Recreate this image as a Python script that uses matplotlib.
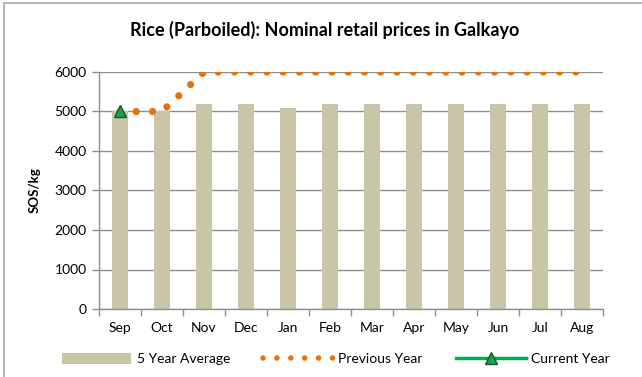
import numpy as np
import matplotlib.pyplot as plt
from matplotlib.lines import Line2D
from matplotlib.patches import Patch, Rectangle

plt.rcParams['font.family'] = ['Lato', 'DejaVu Sans']

months = ['Sep', 'Oct', 'Nov', 'Dec', 'Jan', 'Feb', 'Mar', 'Apr', 'May', 'Jun', 'Jul', 'Aug']
five_year_avg = [5000, 5000, 5200, 5200, 5100, 5200, 5200, 5200, 5200, 5200, 5200, 5200]
previous_year = [5000, 5000, 6000, 6000, 6000, 6000, 6000, 6000, 6000, 6000, 6000, 6000]
current_year = [5000]

bar_color = '#C9C5A8'
prev_color = '#E8710F'
curr_color = '#00B050'
grid_color = '#8F8F8F'

fig = plt.figure(figsize=(6.42, 3.77), dpi=100)
ax = fig.add_axes([99 / 642, 1 - 309 / 377, 504 / 642, 237 / 377])

x = np.arange(len(months))
ax.bar(x, five_year_avg, width=0.4, color=bar_color, zorder=2)
ax.plot(x, previous_year, color=prev_color, lw=5.2,
        linestyle=(0, (0.001, 2.25)), dash_capstyle='round', zorder=3)
ax.plot(x[:len(current_year)], current_year, color=curr_color, lw=2.5,
        marker='^', markersize=9, markerfacecolor='#1E9E4E',
        markeredgecolor='#0B5E2A', zorder=4)

ax.set_xlim(-0.5, len(months) - 0.5)
ax.set_ylim(0, 6000)
ax.set_yticks(range(0, 6001, 1000))
ax.yaxis.grid(True, color=grid_color, lw=1.0, zorder=1)
ax.set_axisbelow(True)

ax.set_xticks(x)
ax.set_xticklabels(months, fontsize=10)
ax.set_xticks(np.arange(-0.5, len(months), 1), minor=True)
ax.tick_params(axis='x', which='major', length=0, pad=9)
ax.tick_params(axis='x', which='minor', length=5, color=grid_color, width=1)
ax.tick_params(axis='y', length=5, color=grid_color, width=1, labelsize=10, pad=4)

for side in ('top', 'right'):
    ax.spines[side].set_visible(False)
for side in ('left', 'bottom'):
    ax.spines[side].set_color(grid_color)
    ax.spines[side].set_linewidth(1.0)

ax.set_ylabel('SOS/kg', fontsize=9.5, fontweight='bold', labelpad=10)

fig.text(0.505, 1 - 30 / 377, 'Rice (Parboiled): Nominal retail prices in Galkayo',
         ha='center', va='center', fontsize=13, fontweight='bold')

handles = [
    Patch(facecolor=bar_color, edgecolor='none'),
    Line2D([], [], color=prev_color, lw=4, linestyle=(0, (0.001, 2.5)),
           dash_capstyle='round'),
    Line2D([], [], color=curr_color, lw=2.5, marker='^', markersize=9,
           markerfacecolor='#1E9E4E', markeredgecolor='#0B5E2A'),
]
fig.legend(handles, ['5 Year Average', 'Previous Year', 'Current Year'],
           loc='center', bbox_to_anchor=(0.523, 1 - 359 / 377), ncol=3,
           frameon=False, fontsize=10, handlelength=5.0, handleheight=0.9,
           columnspacing=2.4, handletextpad=0.4)

# outer chart border
fig.patches.append(Rectangle((4 / 642, -0.01), 1.0, 1 - 3 / 377 + 0.01,
                             transform=fig.transFigure, fill=False,
                             edgecolor='#A6A6A6', lw=1.2))

fig.savefig('out.png', dpi=100)
